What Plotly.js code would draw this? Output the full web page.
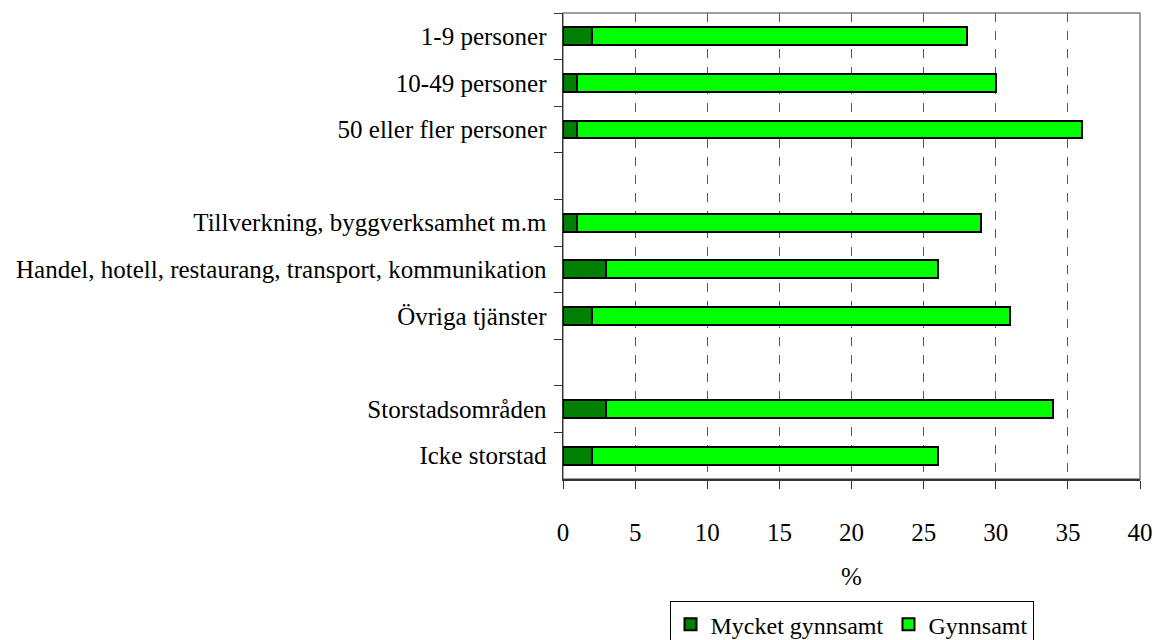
<!DOCTYPE html>
<html>
<head>
<meta charset="utf-8">
<script src="https://cdn.plot.ly/plotly-3.0.1.min.js"></script>
<style>
html,body{margin:0;padding:0;background:#fff;}
#chart{width:1156px;height:640px;}
</style>
</head>
<body>
<div id="chart"></div>
<script>
// Categories (blank strings are the empty gap rows between groups)
const categories = [
  "1-9 personer",
  "10-49 personer",
  "50 eller fler personer",
  " ",
  "Tillverkning, byggverksamhet m.m",
  "Handel, hotell, restaurang, transport, kommunikation",
  "Övriga tjänster",
  "  ",
  "Storstadsområden",
  "Icke storstad"
];
// Series values (%)
const mycketGynnsamt = [2, 1, 1, null, 1, 3, 2, null, 3, 2];
const gynnsamt      = [26, 29, 35, null, 28, 23, 29, null, 31, 24];
const xTicks = [0, 5, 10, 15, 20, 25, 30, 35, 40];

const FONT = 'Liberation Serif';

const traces = [
  {
    type: 'bar', orientation: 'h', name: 'Mycket gynnsamt',
    y: categories, x: mycketGynnsamt,
    marker: {color: '#008000', line: {color: '#000', width: 2}},
    hoverinfo: 'x+y'
  },
  {
    type: 'bar', orientation: 'h', name: 'Gynnsamt',
    y: categories, x: gynnsamt,
    marker: {color: '#00FF00', line: {color: '#000', width: 2}},
    hoverinfo: 'x+y'
  }
];

const layout = {
  width: 1156, height: 640,
  margin: {l: 563, r: 16, t: 13, b: 161, pad: 0, autoexpand: false},
  paper_bgcolor: '#fff', plot_bgcolor: '#fff',
  barmode: 'stack',
  bargap: 0.62,
  font: {family: FONT, size: 25, color: '#000'},
  showlegend: true,
  legend: {
    orientation: 'h', x: 0.5, xanchor: 'center', y: -0.262, yanchor: 'top',
    bordercolor: '#000', borderwidth: 1, bgcolor: '#fff',
    font: {family: FONT, size: 24, color: '#000'},
    traceorder: 'normal', itemwidth: 30
  },
  xaxis: {
    range: [0, 40], tickmode: 'array', tickvals: xTicks,
    ticktext: xTicks.map(String),
    showgrid: true, gridcolor: '#555', griddash: 'dash', gridwidth: 1,
    zeroline: false,
    showline: true, linecolor: '#333', linewidth: 1.5,
    ticks: 'outside', ticklen: 8, tickcolor: '#333', tickwidth: 1,
    ticklabelstandoff: 22,
    tickfont: {family: FONT, size: 25, color: '#000'},
    title: {text: '%', font: {family: FONT, size: 25, color: '#000'}, standoff: 23},
    fixedrange: true
  },
  yaxis: {
    type: 'category',
    categoryorder: 'array', categoryarray: categories,
    autorange: 'reversed',
    tickson: 'boundaries',
    showgrid: false, zeroline: false,
    showline: true, linecolor: '#333', linewidth: 1.5,
    ticks: 'outside', ticklen: 8, tickcolor: '#333', tickwidth: 1,
    ticklabelstandoff: 10,
    tickfont: {family: FONT, size: 25, color: '#000'},
    fixedrange: true
  },
  shapes: [{
    type: 'rect', xref: 'paper', yref: 'paper', x0: 0, x1: 1, y0: 0, y1: 1,
    line: {color: '#808080', width: 1.5}, layer: 'below'
  }]
};

Plotly.newPlot('chart', traces, layout, {displayModeBar: false, staticPlot: true});
</script>
</body>
</html>
